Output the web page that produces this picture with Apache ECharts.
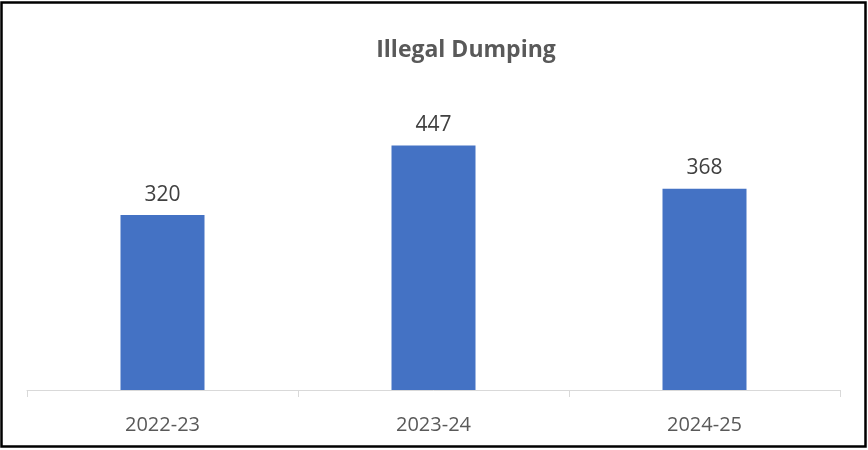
<!DOCTYPE html>
<html>
<head>
<meta charset="utf-8">
<script src="https://cdn.jsdelivr.net/npm/echarts@6/dist/echarts.min.js"></script>
<style>
html,body{margin:0;padding:0;background:#fff;}
#chart{width:868px;height:450px;}
</style>
</head>
<body>
<div id="chart"></div>
<script>
const categories = ['2022-23', '2023-24', '2024-25'];
const values = [320, 447, 368];
const titleText = 'Illegal Dumping';

const chart = echarts.init(document.getElementById('chart'), null, {renderer: 'canvas'});
chart.setOption({
  animation: false,
  backgroundColor: '#ffffff',
  title: {
    text: titleText,
    left: 461,
    top: 34,
    textAlign: 'center',
    textStyle: {fontFamily: 'Open Sans', fontSize: 23, fontWeight: 'bold', color: '#595959'}
  },
  graphic: [{
    type: 'rect',
    shape: {x: 1.5, y: 2.5, width: 864, height: 444},
    style: {fill: 'none', stroke: '#000', lineWidth: 2.5},
    silent: true
  }],
  grid: {left: 27, right: 28, top: 116.6, bottom: 60},
  xAxis: {
    type: 'category',
    data: categories,
    axisLine: {lineStyle: {color: '#d9d9d9', width: 1}},
    axisTick: {show: true, length: 7, lineStyle: {color: '#d9d9d9'}},
    axisLabel: {fontFamily: 'Open Sans', fontSize: 20, color: '#595959', margin: 25}
  },
  yAxis: {
    type: 'value',
    min: 0, max: 500,
    show: false,
    splitLine: {show: false}
  },
  series: [{
    type: 'bar',
    data: values,
    barWidth: 84,
    itemStyle: {color: '#4472c4'},
    label: {show: true, position: 'top', distance: 10, fontFamily: 'Open Sans', fontSize: 21, color: '#404040'}
  }]
});
</script>
</body>
</html>
